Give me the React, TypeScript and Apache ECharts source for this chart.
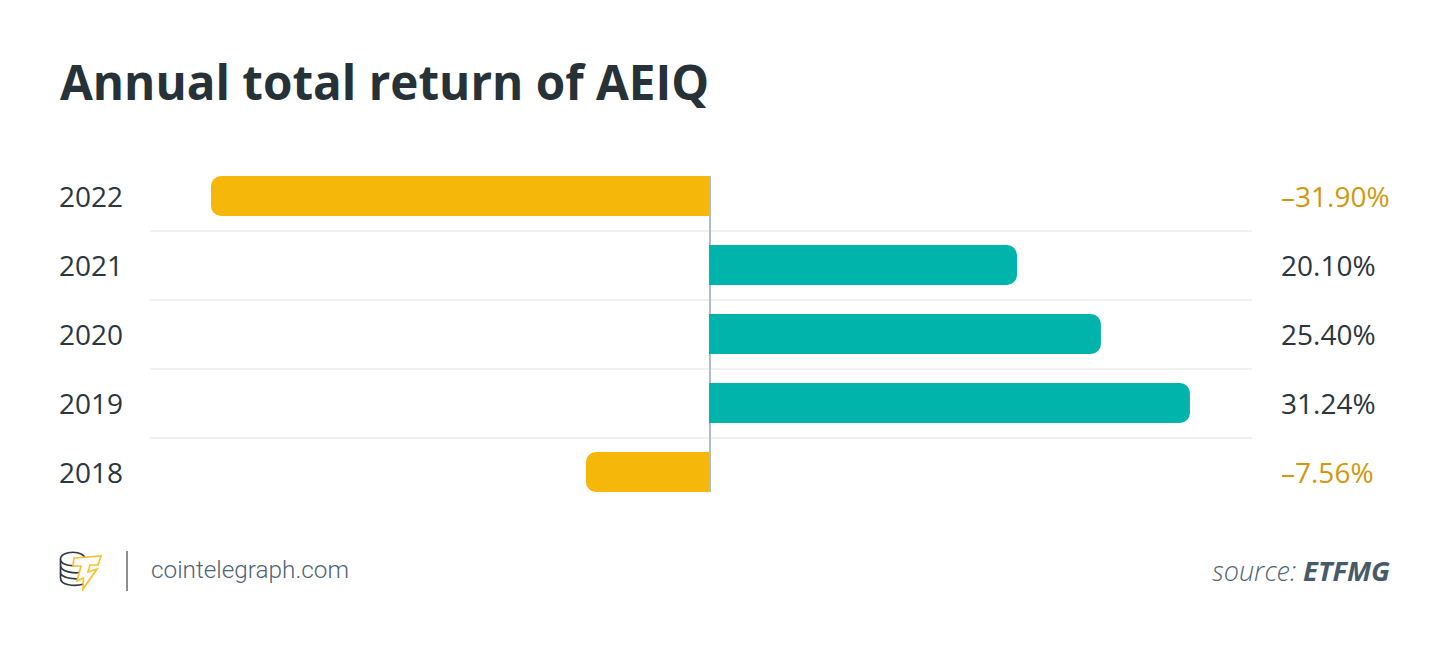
import React, { useEffect, useRef } from "react";
import * as echarts from "echarts";

const categories = ["2018", "2019", "2020", "2021", "2022"];
// Bar lengths
const barValues = [-7.99, 31.23, 25.45, 20.0, -32.34];
// Printed value labels
const valueLabels = ["–7.56%", "31.24%", "25.40%", "20.10%", "–31.90%"];

const TITLE = "Annual total return of AEIQ";
const SITE = "cointelegraph.com";
const INK = "#2a3640";
const GOLD = "#d0980f";
const YELLOW = "#f5b70a";
const TEAL = "#00b3ab";

echarts.graphic.registerShape(
  "boltLogo",
  echarts.graphic.extendPath(
    "M74 558 L101 556 L98 565 L90 565 L88 572 L97 569 L83 589 L83.5 578 L77 581 L81 566 L73 566 Z",
    {}
  )
);
echarts.graphic.registerShape(
  "coinsLogo",
  echarts.graphic.extendPath(
    "M60.5 559 C60.5 550 85 550 85 559 C85 568 60.5 568 60.5 559 M60.5 559 L60.5 578 C60.5 585 74 587 84 584 M60.5 565 C60.5 572 74 574 84 572 M60.5 572 C60.5 578 74 580 84 578",
    {}
  )
);

export default function App() {
  const ref = useRef<HTMLDivElement>(null);
  useEffect(() => {
    const chart = echarts.init(ref.current!, undefined, { renderer: "svg" });
    chart.setOption({
      animation: false,
      backgroundColor: "#ffffff",
      grid: { left: 150, width: 1102, top: 161.5, height: 345, containLabel: false },
      xAxis: {
        type: "value",
        min: -36.3,
        max: 35.26,
        show: false,
      },
      yAxis: [
        {
          type: "category",
          data: categories,
          position: "left",
          axisLine: { show: false },
          axisTick: { show: false },
          splitLine: {
            show: true,
            showMinLine: false,
            showMaxLine: false,
            lineStyle: { color: "#f0f1f2", width: 2 },
          },
          axisLabel: {
            margin: 91,
            align: "left",
            fontFamily: "Open Sans",
            fontSize: 28,
            color: INK,
          },
        },
        {
          type: "category",
          data: valueLabels,
          position: "right",
          axisLine: { show: false },
          axisTick: { show: false },
          splitLine: { show: false },
          axisLabel: {
            margin: 29,
            align: "left",
            fontFamily: "Open Sans",
            fontSize: 28,
            color: (v: string) => (v.startsWith("–") ? GOLD : INK),
          },
        },
      ],
      series: [
        {
          type: "bar",
          yAxisIndex: 0,
          barWidth: 40,
          z: 5,
          data: barValues.map((v) => ({
            value: v,
            itemStyle: {
              color: v < 0 ? YELLOW : TEAL,
              borderRadius: v < 0 ? [10, 0, 0, 10] : [0, 10, 10, 0],
            },
          })),
        },
      ],
      graphic: [
        {
          type: "rect",
          z: 1,
          shape: { x: 709, y: 176, width: 2, height: 316 },
          style: { fill: "#aebcc8" },
        },
        {
          type: "text",
          x: 60,
          y: 81,
          style: {
            text: TITLE,
            fontFamily: "Open Sans",
            fontWeight: 700,
            fontSize: 47.6,
            fill: "#263238",
            verticalAlign: "middle",
          },
        },
        { type: "coinsLogo", x: 0, y: 0, z: 1, style: { fill: "none", stroke: "#2f3a42", lineWidth: 1.7 } },
        { type: "boltLogo", x: 0, y: 0, z: 2, style: { fill: "#fff", stroke: "#f7c12f", lineWidth: 1.7 } },
        {
          type: "rect",
          shape: { x: 126, y: 551, width: 2, height: 40 },
          style: { fill: "#8a8f92" },
        },
        {
          type: "text",
          x: 151,
          y: 569,
          style: {
            text: SITE,
            fontFamily: "Roboto",
            fontWeight: 300,
            fontSize: 24.3,
            fill: "#4f6473",
            verticalAlign: "middle",
          },
        },
        {
          type: "text",
          x: 1390,
          y: 570,
          style: {
            text: "{a|source: }{b|ETFMG}",
            align: "right",
            verticalAlign: "middle",
            rich: {
              a: { fontFamily: "Open Sans", fontStyle: "italic", fontWeight: 300, fontSize: 27, fill: "#4f6473" },
              b: { fontFamily: "Open Sans", fontStyle: "italic", fontWeight: 700, fontSize: 27.4, fill: "#465a69" },
            },
          },
        },
      ],
    });
    return () => chart.dispose();
  }, []);
  return (
    <div
      ref={ref}
      style={{ position: "absolute", left: 0, top: 0, width: 1450, height: 651 }}
    />
  );
}
